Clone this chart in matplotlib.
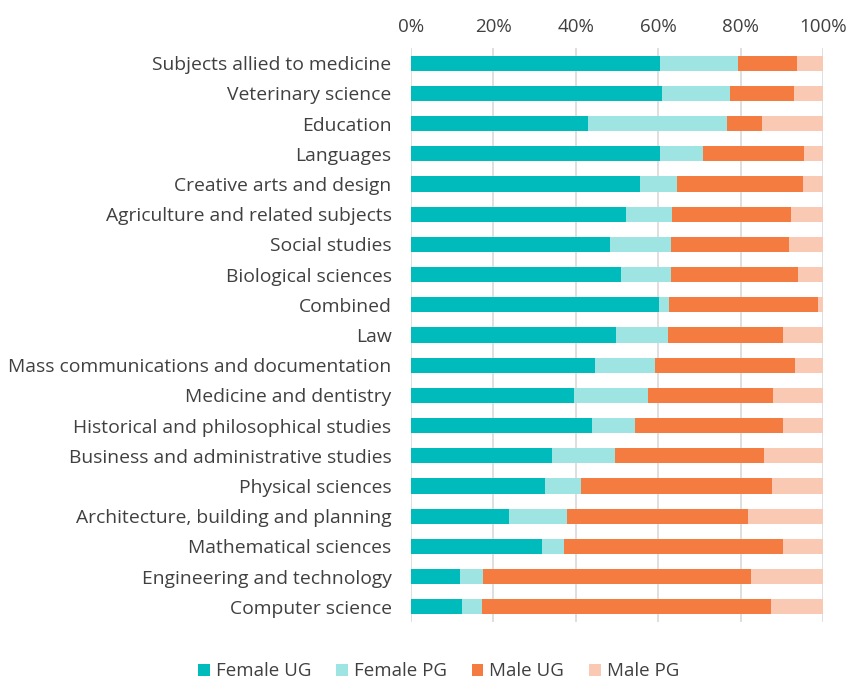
import matplotlib
matplotlib.use("Agg")
import matplotlib.pyplot as plt
from matplotlib.ticker import PercentFormatter

categories = [
    "Subjects allied to medicine", "Veterinary science", "Education", "Languages",
    "Creative arts and design", "Agriculture and related subjects", "Social studies",
    "Biological sciences", "Combined", "Law", "Mass communications and documentation",
    "Medicine and dentistry", "Historical and philosophical studies",
    "Business and administrative studies", "Physical sciences",
    "Architecture, building and planning", "Mathematical sciences",
    "Engineering and technology", "Computer science",
]
female_ug = [60.4, 61.0, 42.9, 60.5, 55.5, 52.2, 48.4, 51.0, 60.2, 49.8, 44.7, 39.5, 44.0, 34.3, 32.6, 23.8, 31.7, 11.9, 12.5]
female_pg = [18.9, 16.4, 33.8, 10.3, 9.1, 11.2, 14.8, 12.0, 2.4, 12.7, 14.6, 18.1, 10.3, 15.3, 8.6, 14.0, 5.4, 5.7, 4.7]
male_ug = [14.5, 15.6, 8.5, 24.6, 30.5, 28.8, 28.5, 31.0, 36.3, 27.7, 33.8, 30.2, 36.0, 36.2, 46.5, 44.1, 53.1, 65.0, 70.2]
male_pg = [6.2, 7.0, 14.8, 4.6, 4.9, 7.8, 8.3, 6.0, 1.1, 9.8, 6.9, 12.2, 9.7, 14.2, 12.3, 18.1, 9.8, 17.4, 12.6]
series_names = ["Female UG", "Female PG", "Male UG", "Male PG"]
colors = ["#00BBBC", "#9EE4E3", "#F47C41", "#F9C9B3"]

plt.rcParams['font.family'] = ['Open Sans', 'DejaVu Sans']

fig = plt.figure(figsize=(8.5, 6.8), dpi=100)
ax = fig.add_axes([0.4835, 0.0853, 0.4847, 0.8441])

y = list(range(len(categories)))
left = [0.0] * len(categories)
for vals, name, c in zip([female_ug, female_pg, male_ug, male_pg], series_names, colors):
    ax.barh(y, vals, left=left, height=0.5, color=c, label=name, zorder=3)
    left = [l + v for l, v in zip(left, vals)]

ax.set_xlim(0, 100)
ax.set_ylim(len(categories) - 0.5, -0.5)
ax.set_yticks(y)
ax.set_yticklabels(categories)
ax.set_xticks([0, 20, 40, 60, 80, 100])
ax.xaxis.set_major_formatter(PercentFormatter(decimals=0))
ax.xaxis.tick_top()
ax.tick_params(axis='both', length=0, labelsize=13.5, colors='#404040')
ax.tick_params(axis='y', labelsize=13.9)
ax.tick_params(axis='x', pad=9)
ax.tick_params(axis='y', pad=14)
ax.grid(axis='x', color='#D9D9D9', linewidth=1.2, zorder=0)
for s in ax.spines.values():
    s.set_visible(False)

fig.legend(loc='center', bbox_to_anchor=(0.516, 0.013), ncol=4, frameon=False,
           fontsize=13.5, handlelength=0.6, handleheight=0.6, handletextpad=0.32,
           columnspacing=1.35, labelcolor='#404040')

fig.savefig("out.png", dpi=100)
